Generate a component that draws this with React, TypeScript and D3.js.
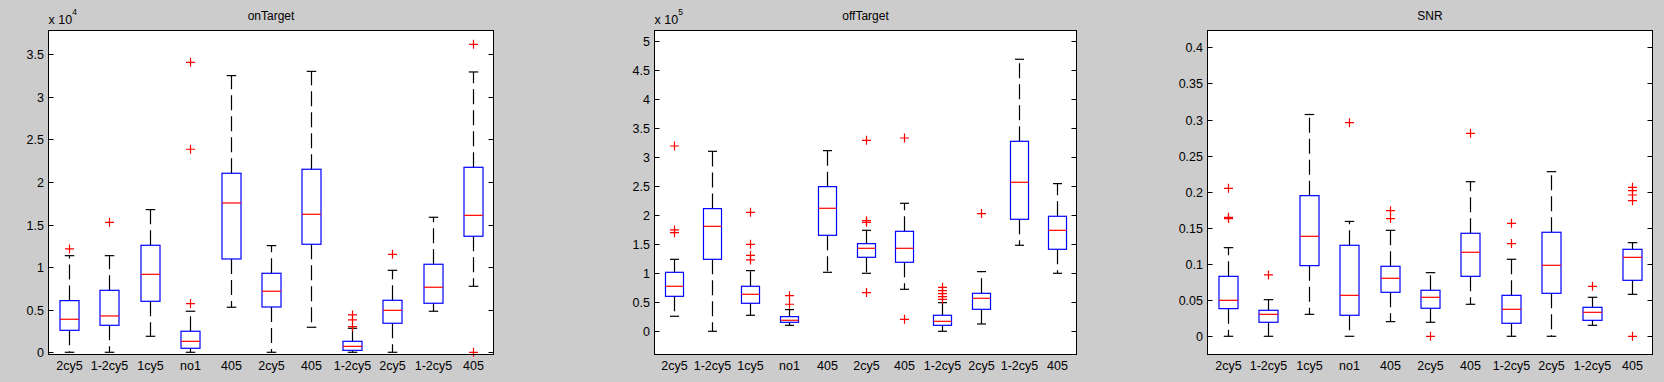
import React from "react";
import * as d3 from "d3";

// ---------- DATA ----------
const categories = ["2cy5", "1-2cy5", "1cy5", "no1", "405", "2cy5", "405", "1-2cy5", "2cy5", "1-2cy5", "405"];

// onTarget (raw units)
const onTargetLow = [0, 0, 1880, 0, 5290, 0, 2940, 0, 0, 4820, 7750];
const onTargetQ1 = [2580, 3170, 5990, 470, 10960, 5320, 12690, 230, 3410, 5760, 13630];
const onTargetMed = [3880, 4270, 9160, 1290, 17540, 7170, 16210, 700, 4930, 7640, 16090];
const onTargetQ3 = [6070, 7280, 12570, 2470, 21030, 9280, 21500, 1290, 6110, 10340, 21730];
const onTargetHigh = [11350, 11350, 16760, 4820, 32500, 12530, 33000, 2820, 9630, 15860, 32930];
const onTargetOutliers = [[12140], [15270], [], [34060, 23850, 5720], [], [], [], [4390, 3800, 3010], [11510], [], [36180, 0]];
const onTargetTicks = [0, 5000, 10000, 15000, 20000, 25000, 30000, 35000];
const onTargetTickLabels = ["0", "0.5", "1", "1.5", "2", "2.5", "3", "3.5"];

// offTarget (raw units)
const offTargetLow = [25900, 0, 27600, 10300, 101700, 100000, 72400, 0, 12600, 148300, 100000];
const offTargetQ1 = [60300, 124100, 48300, 15500, 165500, 127600, 119000, 10300, 37900, 193100, 141400];
const offTargetMed = [77600, 181000, 63800, 19000, 212100, 143100, 143100, 17200, 56900, 256900, 174100];
const offTargetQ3 = [101700, 211500, 77600, 25300, 249400, 151100, 172400, 27600, 65500, 327600, 198300];
const offTargetHigh = [124100, 310300, 104600, 37400, 311500, 174100, 220700, 49400, 102900, 469000, 254600];
const offTargetOutliers = [[319500, 174700, 170100], [], [205200, 150000, 131000, 123000], [61500, 46600], [], [329300, 190800, 187900, 66700], [333300, 20700], [75900, 70100, 64900, 59800, 55200], [202900], [], []];
const offTargetTicks = [0, 50000, 100000, 150000, 200000, 250000, 300000, 350000, 400000, 450000, 500000];
const offTargetTickLabels = ["0", "0.5", "1", "1.5", "2", "2.5", "3", "3.5", "4", "4.5", "5"];

// SNR
const snrLow = [0, 0, 0.0304, 0, 0.0203, 0.0194, 0.0443, 0, 0, 0.0152, 0.0581];
const snrQ1 = [0.0383, 0.0194, 0.0978, 0.0291, 0.0609, 0.0388, 0.083, 0.018, 0.0595, 0.0221, 0.0775];
const snrMed = [0.0498, 0.0304, 0.1384, 0.0567, 0.0803, 0.054, 0.1163, 0.0374, 0.0983, 0.0332, 0.1093];
const snrQ3 = [0.083, 0.036, 0.1947, 0.126, 0.0969, 0.0637, 0.1426, 0.0567, 0.144, 0.0401, 0.1204];
const snrHigh = [0.1227, 0.0507, 0.307, 0.159, 0.1467, 0.0881, 0.214, 0.1066, 0.2279, 0.054, 0.1296];
const snrOutliers = [[0.2048, 0.1647, 0.1629], [0.0849], [], [0.2957], [0.1739, 0.1629], [0], [0.281], [0.1564, 0.1283], [], [0.0692], [0.2062, 0.2016, 0.1956, 0.1878, 0]];
const snrTicks = [0, 0.05, 0.1, 0.15, 0.2, 0.25, 0.3, 0.35, 0.4];
const snrTickLabels = ["0", "0.05", "0.1", "0.15", "0.2", "0.25", "0.3", "0.35", "0.4"];

// ---------- LAYOUT ----------
const W = 1664;
const H = 382;
const FONT = "'Liberation Sans', Arial, Helvetica, sans-serif";

type PanelSpec = {
  title: string;
  exponent: string | null;
  left: number;
  right: number;
  domain: [number, number];
  low: number[];
  q1: number[];
  med: number[];
  q3: number[];
  high: number[];
  outliers: number[][];
  ticks: number[];
  tickLabels: string[];
};

const TOP = 30.5;
const BOTTOM = 354.5;

const panels: PanelSpec[] = [
  {
    title: "onTarget", exponent: "4", left: 48.5, right: 493.5, domain: [-260, 37800],
    low: onTargetLow, q1: onTargetQ1, med: onTargetMed, q3: onTargetQ3, high: onTargetHigh,
    outliers: onTargetOutliers, ticks: onTargetTicks, tickLabels: onTargetTickLabels,
  },
  {
    title: "offTarget", exponent: "5", left: 654.5, right: 1076.5, domain: [-40000, 518600],
    low: offTargetLow, q1: offTargetQ1, med: offTargetMed, q3: offTargetQ3, high: offTargetHigh,
    outliers: offTargetOutliers, ticks: offTargetTicks, tickLabels: offTargetTickLabels,
  },
  {
    title: "SNR", exponent: null, left: 1207.5, right: 1652.5, domain: [-0.0252, 0.4233],
    low: snrLow, q1: snrQ1, med: snrMed, q3: snrQ3, high: snrHigh,
    outliers: snrOutliers, ticks: snrTicks, tickLabels: snrTickLabels,
  },
];

function Panel({ p }: { p: PanelSpec }) {
  const x = d3.scaleLinear().domain([0.5, categories.length + 0.5]).range([p.left, p.right]);
  const y = d3.scaleLinear().domain(p.domain).range([BOTTOM, TOP]);
  const step = x(2) - x(1);
  const boxW = step * 0.47;
  const capW = boxW * 0.5;
  const tickLen = 5;
  const cx = (p.left + p.right) / 2;

  return (
    <g>
      <rect x={p.left} y={TOP} width={p.right - p.left} height={BOTTOM - TOP} fill="#ffffff" />
      {/* boxes */}
      {categories.map((c, i) => {
        const xc = Math.round(x(i + 1)) + 0.5;
        const yHigh = y(p.high[i]);
        const yLow = y(p.low[i]);
        const yQ1 = y(p.q1[i]);
        const yQ3 = y(p.q3[i]);
        const yMed = y(p.med[i]);
        return (
          <g key={i}>
            <line x1={xc} x2={xc} y1={yQ3} y2={yHigh} stroke="#000" strokeWidth={1.2} strokeDasharray="15 6" />
            <line x1={xc} x2={xc} y1={yQ1} y2={yLow} stroke="#000" strokeWidth={1.2} strokeDasharray="15 6" />
            <line x1={xc - capW / 2} x2={xc + capW / 2} y1={yHigh} y2={yHigh} stroke="#000" strokeWidth={1.2} />
            <line x1={xc - capW / 2} x2={xc + capW / 2} y1={yLow} y2={yLow} stroke="#000" strokeWidth={1.2} />
            <rect x={xc - boxW / 2} y={yQ3} width={boxW} height={yQ1 - yQ3} fill="none" stroke="#0000ff" strokeWidth={1.2} />
            <line x1={xc - boxW / 2} x2={xc + boxW / 2} y1={yMed} y2={yMed} stroke="#ff0000" strokeWidth={1.2} />
            {p.outliers[i].map((o, j) => {
              const yo = y(o);
              const s = 4.5;
              return (
                <path key={j} d={`M${xc - s},${yo}H${xc + s}M${xc},${yo - s}V${yo + s}`} stroke="#ff0000" strokeWidth={1.2} fill="none" />
              );
            })}
            <text x={xc} y={370} textAnchor="middle" fontFamily={FONT} fontSize={12.5} fill="#000">{c}</text>
          </g>
        );
      })}
      {/* y ticks */}
      {p.ticks.map((t, i) => {
        const yt = Math.round(y(t)) + 0.5;
        return (
          <g key={i}>
            <line x1={p.left} x2={p.left + tickLen} y1={yt} y2={yt} stroke="#000" strokeWidth={1} />
            <line x1={p.right - tickLen} x2={p.right} y1={yt} y2={yt} stroke="#000" strokeWidth={1} />
            <text x={p.left - 4.5} y={yt} dy="0.35em" textAnchor="end" fontFamily={FONT} fontSize={12.5} fill="#000">{p.tickLabels[i]}</text>
          </g>
        );
      })}
      {/* frame */}
      <rect x={p.left} y={TOP} width={p.right - p.left} height={BOTTOM - TOP} fill="none" stroke="#000" strokeWidth={1} />
      {/* title */}
      <text x={cx} y={20} textAnchor="middle" fontFamily={FONT} fontSize={12} fill="#000">{p.title}</text>
      {p.exponent && (
        <text x={p.left} y={24} fontFamily={FONT} fontSize={12.5} fill="#000">
          x 10<tspan dy={-9} fontSize={8.5}>{p.exponent}</tspan>
        </text>
      )}
    </g>
  );
}

export default function App() {
  return (
    <svg width={W} height={H} style={{ position: "absolute", left: 0, top: 0, display: "block" }}>
      <rect x={0} y={0} width={W} height={H} fill="#cccccc" />
      {panels.map((p, i) => (
        <Panel key={i} p={p} />
      ))}
    </svg>
  );
}
